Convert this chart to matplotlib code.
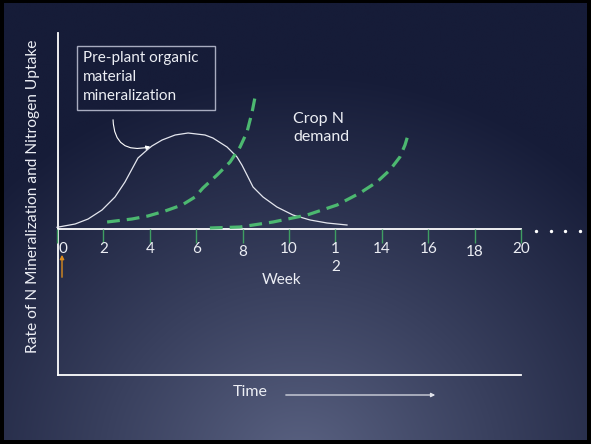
import numpy as np
import matplotlib.pyplot as plt
from matplotlib.patches import Rectangle

plt.rcParams['font.family'] = ['Lato', 'DejaVu Sans']

# mineralization curve (weeks, rate)
min_week = [0.0, 0.78, 1.34, 1.94, 2.5, 2.93, 3.28, 3.49, 3.88, 4.09, 4.53, 5.09, 5.65, 6.38, 6.72,
            7.33, 7.76, 7.97, 8.19, 8.45, 8.88, 9.48, 10.17, 10.91, 11.64, 12.5]
min_rate = [0.17, 0.5, 1.0, 1.9, 3.2, 4.7, 6.2, 7.1, 7.9, 8.3, 8.9, 9.4, 9.6, 9.4, 9.1,
            8.2, 7.2, 6.4, 5.4, 4.2, 3.2, 2.2, 1.4, 0.9, 0.6, 0.4]

# crop N demand, first crop
crop1_week = [2.16, 3.23, 3.92, 4.66, 5.39, 5.95, 6.29, 6.9, 7.46, 7.89, 8.19, 8.41, 8.58]
crop1_rate = [0.7, 1.0, 1.3, 1.8, 2.4, 3.2, 4.1, 5.4, 6.7, 8.2, 9.7, 11.7, 13.7]

# crop N demand, second crop
crop2_week = [6.59, 7.89, 9.31, 10.78, 12.07, 13.06, 13.79, 14.35, 14.78, 15.0, 15.13]
crop2_rate = [0.1, 0.2, 0.7, 1.4, 2.4, 3.6, 4.7, 5.9, 7.2, 8.4, 9.4]

weeks = [0, 2, 4, 6, 8, 10, 12, 14, 16, 18, 20]
week_labels = ['0', '2', '4', '6', '8', '10', '1\n2', '14', '16', '18', '20']

W, H = 591, 444


def wk(px):
    # pixel column -> week
    return (px - 57) / 23.2


def rt(py):
    # pixel row -> rate units
    return (229 - py) / 10.0


fig = plt.figure(figsize=(W / 100, H / 100), dpi=100)
fig.patch.set_facecolor('black')
ax = fig.add_axes([0, 0, 1, 1])
ax.set_xlim(wk(0), wk(W))
ax.set_ylim(rt(H), rt(0))
ax.axis('off')

# background: dark navy with lighter glow at bottom centre
yy, xx = np.mgrid[0:H, 0:W]
d = np.sqrt(((xx - 300) / 430.0) ** 2 + ((yy - 470) / 400.0) ** 2)
t = np.clip(d, 0, 1)[..., None] ** 0.9
c_in = np.array([0x5c, 0x64, 0x84]) / 255.0
c_out = np.array([0x16, 0x1c, 0x38]) / 255.0
img = c_in * (1 - t) + c_out * t
ax.imshow(img, extent=(wk(4), wk(587), rt(440), rt(4)), aspect='auto', zorder=0)

txt = '#eceef4'

# axes lines
ax.plot([wk(58), wk(58)], [rt(33), rt(375)], color='white', lw=1.3, zorder=2)
ax.plot([wk(58), wk(521)], [rt(375), rt(375)], color='white', lw=1.3, zorder=2)
ax.plot([wk(58), wk(521)], [rt(229), rt(229)], color='white', lw=1.3, zorder=2)

# week ticks and labels
ax.vlines(weeks, rt(243), rt(229), color='#3f9e62', lw=1.0, zorder=3)
for w, lab in zip(weeks, week_labels):
    dx = 0.25 if w == 0 else 0
    ypos = rt(252) if w in (8, 18) else rt(249)
    if '\n' in lab:
        ax.text(w, rt(242), lab, color=txt, fontsize=11, ha='center', va='top', linespacing=1.4, zorder=4)
    else:
        ax.text(w + dx, ypos, lab, color=txt, fontsize=11, ha='center', va='center', zorder=4)
ax.text(wk(282), rt(280), 'Week', color=txt, fontsize=11, ha='center', va='center')
ax.scatter([wk(536), wk(551), wk(565), wk(580)], [rt(231)] * 4, s=2, color='white', zorder=4)

# curves
ax.plot(min_week, min_rate, color='#e4e6ee', lw=0.9, zorder=3)
ax.plot(crop1_week, crop1_rate, color='#4cb870', lw=2.3, dashes=(4, 2.2), zorder=3)
ax.plot(crop2_week, crop2_rate, color='#4cb870', lw=2.3, dashes=(4, 2.2), zorder=3)

# orange marker arrow at week 0
ax.annotate('', xy=(wk(62), rt(252)), xytext=(wk(62), rt(280)),
            arrowprops=dict(arrowstyle='-|>', color='#d98b1e', lw=1.0, mutation_scale=6))

# text box with pointer
ax.add_patch(Rectangle((wk(77), rt(110)), wk(215) - wk(77), rt(46) - rt(110),
                       fill=False, edgecolor='#a8acc0', lw=1.0, zorder=3))
ax.text(wk(83), rt(51), 'Pre-plant organic\nmaterial\nmineralization', color=txt, fontsize=11,
        ha='left', va='top', linespacing=1.45, zorder=4)
ax.annotate('', xy=(wk(153), rt(146)), xytext=(wk(113), rt(117)),
            arrowprops=dict(arrowstyle='-|>', color='white', lw=0.8, mutation_scale=6,
                            connectionstyle='angle3,angleA=90,angleB=15'))

ax.text(wk(293), rt(112), 'Crop N\ndemand', color=txt, fontsize=11.5, ha='left', va='top', linespacing=1.35)

# y label
ax.text(wk(33), rt(196), 'Rate of N Mineralization and Nitrogen Uptake', color=txt, fontsize=11.2,
        rotation=90, ha='center', va='center')

# time arrow
ax.text(wk(250), rt(392), 'Time', color=txt, fontsize=11.5, ha='center', va='center')
ax.annotate('', xy=(wk(438), rt(395)), xytext=(wk(283), rt(395)),
            arrowprops=dict(arrowstyle='-|>', color='#e0e2ea', lw=0.9, mutation_scale=6))

fig.savefig('out.png', dpi=100, facecolor=fig.get_facecolor())
